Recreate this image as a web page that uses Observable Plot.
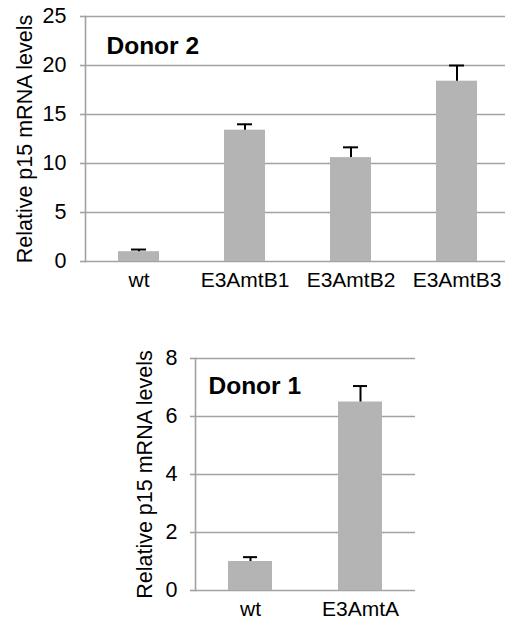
<!DOCTYPE html>
<html>
<head>
<meta charset="utf-8">
<script src="https://cdn.jsdelivr.net/npm/d3@7"></script>
<script src="https://cdn.jsdelivr.net/npm/@observablehq/plot@0.6"></script>
<style>
  html, body { margin: 0; padding: 0; background: #fff; }
  #wrap { width: 505px; height: 628px; position: relative; }
  #wrap svg { display: block; }
</style>
</head>
<body>
<div id="wrap"></div>
<script>
// Donor 2 panel
const categoriesD2 = ["wt", "E3AmtB1", "E3AmtB2", "E3AmtB3"];
const meansD2 = [1.0, 13.4, 10.6, 18.4];
const errorsD2 = [0.22, 0.6, 1.05, 1.6];
const ticksD2 = [0, 5, 10, 15, 20, 25];
const titleD2 = "Donor 2";

// Donor 1 panel
const categoriesD1 = ["wt", "E3AmtA"];
const meansD1 = [1.0, 6.5];
const errorsD1 = [0.15, 0.55];
const ticksD1 = [0, 2, 4, 6, 8];
const titleD1 = "Donor 1";

const yLabel = "Relative p15 mRNA levels";

const FONT = "'Liberation Sans', Arial, Helvetica, sans-serif";
const GRID = "#a2a2a2";
const BAR = "#b4b4b4";

function rows(cats, means, errs) {
  return cats.map((c, i) => ({cat: c, v: means[i], up: means[i] + errs[i]}));
}

function panel(o) {
  const data = rows(o.cats, o.means, o.errs);
  return Plot.plot({
    width: 505,
    height: o.height,
    marginLeft: o.marginLeft,
    marginRight: o.marginRight,
    marginTop: o.marginTop,
    marginBottom: o.marginBottom,
    style: {fontFamily: FONT, background: "#fff", color: "#000", overflow: "visible"},
    x: {domain: o.cats, range: o.xRange, paddingInner: o.pad, paddingOuter: o.pad / 2},
    y: {domain: [o.ticks[0], o.ticks[o.ticks.length - 1]]},
    marks: [
      Plot.gridY({ticks: o.ticks, stroke: GRID, strokeOpacity: 1, strokeWidth: 1.6}),
      Plot.frame({anchor: "left", stroke: GRID, strokeOpacity: 1, strokeWidth: 1.6}),
      Plot.axisY({ticks: o.ticks, tickSize: 5, text: null, stroke: GRID, strokeOpacity: 1, strokeWidth: 1.6, label: null}),
      Plot.text(o.ticks, {y: d => d, text: d => String(d), frameAnchor: "left", dx: o.tickDx, textAnchor: "end", lineAnchor: "middle", fontSize: 21.5, fill: "#000"}),
      Plot.axisX({tickSize: 0, tickPadding: 11, fontSize: 21, label: null}),
      Plot.barY(data, {x: "cat", y: "v", fill: BAR}),
      Plot.ruleX(data, {x: "cat", y1: "v", y2: "up", stroke: "#000", strokeWidth: 2}),
      Plot.tickY(data, {x: "cat", y: "up", stroke: "#000", strokeWidth: 2, insetLeft: o.capInset, insetRight: o.capInset}),
      Plot.text([o.title], {frameAnchor: "top-left", dx: o.titleDx, dy: o.titleDy, text: d => d, lineAnchor: "top", textAnchor: "start", fontSize: 24.5, fontWeight: "bold", fill: "#000"}),
      Plot.text([yLabel], {frameAnchor: "left", dx: o.labelDx, rotate: -90, text: d => d, lineAnchor: "middle", textAnchor: "middle", fontSize: 21.5, fill: "#000"})
    ]
  });
}

const wrap = document.getElementById("wrap");
wrap.appendChild(panel({
  cats: categoriesD2, means: meansD2, errs: errorsD2, ticks: ticksD2, title: titleD2,
  height: 300, marginLeft: 85, marginRight: 0, marginTop: 16, marginBottom: 39,
  xRange: [85, 510], pad: 0.61, tickDx: -19, capInset: 13,
  titleDx: 21, titleDy: 20, labelDx: -60
}));
wrap.appendChild(panel({
  cats: categoriesD1, means: meansD1, errs: errorsD1, ticks: ticksD1, title: titleD1,
  height: 328, marginLeft: 195, marginRight: 90, marginTop: 58, marginBottom: 38,
  xRange: [195, 415], pad: 0.6, tickDx: -18, capInset: 15,
  titleDx: 13, titleDy: 18, labelDx: -50
}));
</script>
</body>
</html>
